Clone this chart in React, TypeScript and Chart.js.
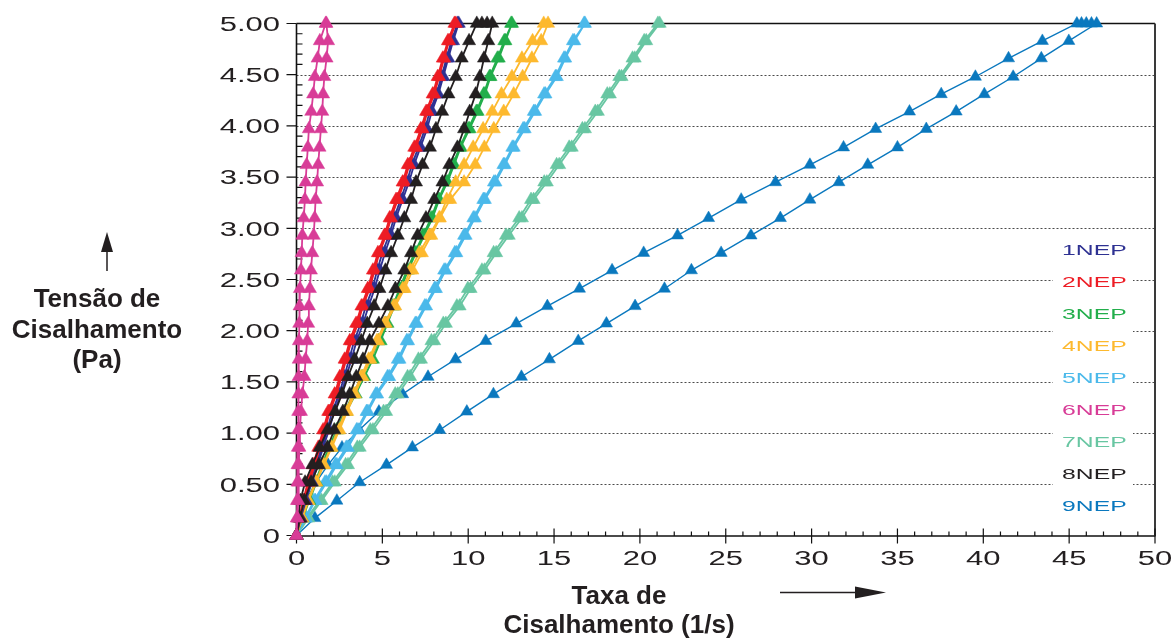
import React, { useEffect, useRef } from "react";
import { Chart, registerables } from "chart.js";

Chart.register(...registerables);

// Shear stress levels (Pa) shared by every curve, 30 steps from 0 to 5
const stressLevels = [
  0, 0.17, 0.34, 0.52, 0.69, 0.86, 1.03, 1.21, 1.38, 1.55, 1.72, 1.9, 2.07, 2.24, 2.41,
  2.59, 2.76, 2.93, 3.1, 3.28, 3.45, 3.62, 3.79, 3.97, 4.14, 4.31, 4.48, 4.66, 4.83, 5.0,
];

const seriesNames = ["1NEP", "2NEP", "3NEP", "4NEP", "5NEP", "6NEP", "7NEP", "8NEP", "9NEP"];
const seriesColors = [
  "#2E3192", "#ED1C24", "#22AE4B", "#FDB92E", "#4BB9EA", "#D83C97", "#68C6A2", "#231F20", "#0A78BE",
];

// Shear rate (1/s) read for the ramp-up curve and ramp-down curve of each sample
const rate1Up = [0, 0.25, 0.55, 0.9, 1.25, 1.55, 1.9, 2.2, 2.6, 2.9, 3.2, 3.5, 3.88, 4.2, 4.55, 4.85, 5.15, 5.5, 5.8, 6.18, 6.55, 6.85, 7.22, 7.6, 7.88, 8.26, 8.55, 8.84, 9.12, 9.45];
const rate1Down = [0, 0.22, 0.5, 0.82, 1.15, 1.45, 1.78, 2.08, 2.48, 2.78, 3.06, 3.36, 3.74, 4.04, 4.42, 4.7, 5.0, 5.38, 5.68, 6.06, 6.42, 6.72, 7.1, 7.48, 7.76, 8.15, 8.44, 8.74, 9.02, 9.38];
const rate1Hold: number[] = [];

const rate2Up = [0, 0.2, 0.45, 0.75, 1.07, 1.36, 1.65, 1.94, 2.33, 2.62, 2.9, 3.2, 3.58, 3.87, 4.26, 4.55, 4.83, 5.22, 5.51, 5.9, 6.28, 6.57, 6.96, 7.34, 7.63, 8.02, 8.31, 8.6, 8.89, 9.28];
const rate2Down = [0, 0.15, 0.38, 0.66, 0.97, 1.27, 1.55, 1.85, 2.22, 2.52, 2.8, 3.1, 3.47, 3.78, 4.15, 4.45, 4.74, 5.12, 5.42, 5.8, 6.18, 6.48, 6.86, 7.24, 7.55, 7.93, 8.22, 8.52, 8.82, 9.2];
const rate2Hold: number[] = [];

const rate3Up = [0, 0.35, 0.75, 1.17, 1.55, 2.0, 2.42, 2.9, 3.45, 3.95, 4.45, 4.9, 5.3, 5.7, 6.1, 6.5, 6.96, 7.44, 7.92, 8.31, 8.79, 9.18, 9.56, 10.08, 10.55, 10.97, 11.3, 11.78, 12.17, 12.55];
const rate3Down = [0, 0.3, 0.68, 1.08, 1.47, 1.9, 2.33, 2.8, 3.3, 3.82, 4.32, 4.78, 5.2, 5.6, 6.0, 6.42, 6.88, 7.36, 7.84, 8.24, 8.72, 9.1, 9.5, 10.0, 10.47, 10.9, 11.24, 11.7, 12.1, 12.5];
const rate3Hold: number[] = [];

const rate4Up = [0, 0.35, 0.7, 1.15, 1.6, 2.05, 2.5, 2.95, 3.4, 3.85, 4.3, 4.75, 5.2, 5.75, 6.3, 6.75, 7.3, 7.85, 8.35, 8.95, 9.76, 10.41, 10.94, 11.49, 12.07, 12.65, 13.17, 13.71, 14.25, 14.65];
const rate4Down = [0, 0.3, 0.65, 1.1, 1.55, 2.0, 2.4, 2.85, 3.3, 3.75, 4.2, 4.68, 5.12, 5.65, 6.19, 6.62, 7.15, 7.73, 8.31, 8.75, 9.27, 9.76, 10.29, 10.87, 11.4, 11.94, 12.55, 13.13, 13.75, 14.4];
const rate4Hold: number[] = [];

const rate5Up = [0, 0.55, 1.1, 1.75, 2.35, 3.0, 3.58, 4.16, 4.7, 5.4, 6.0, 6.5, 7.0, 7.55, 8.12, 8.69, 9.31, 9.85, 10.39, 10.97, 11.59, 12.13, 12.65, 13.29, 13.9, 14.5, 15.16, 15.65, 16.18, 16.8];
const rate5Down = [0, 0.5, 1.02, 1.66, 2.26, 2.9, 3.5, 4.08, 4.62, 5.3, 5.9, 6.42, 6.92, 7.47, 8.04, 8.6, 9.22, 9.76, 10.3, 10.88, 11.5, 12.05, 12.57, 13.2, 13.82, 14.42, 15.08, 15.58, 16.1, 16.75];
const rate5Hold: number[] = [];

const rate6Up = [0, 0.05, 0.1, 0.12, 0.14, 0.17, 0.2, 0.26, 0.34, 0.46, 0.53, 0.62, 0.68, 0.72, 0.78, 0.84, 0.92, 1.0, 1.06, 1.11, 1.2, 1.26, 1.34, 1.42, 1.5, 1.55, 1.62, 1.75, 1.84, 1.74];
const rate6Down = [0, 0.02, 0.03, 0.05, 0.06, 0.08, 0.09, 0.1, 0.11, 0.12, 0.13, 0.14, 0.16, 0.18, 0.2, 0.26, 0.3, 0.34, 0.42, 0.49, 0.53, 0.59, 0.66, 0.72, 0.86, 0.97, 1.07, 1.23, 1.36, 1.7];
const rate6Hold: number[] = [];

const rate7Up = [0, 0.7, 1.46, 2.23, 3.0, 3.68, 4.45, 5.22, 5.9, 6.62, 7.25, 8.02, 8.7, 9.5, 10.14, 10.95, 11.63, 12.36, 13.13, 13.81, 14.58, 15.3, 16.03, 16.8, 17.55, 18.25, 18.93, 19.7, 20.37, 21.15];
const rate7Down = [0, 0.6, 1.34, 2.1, 2.86, 3.54, 4.3, 5.07, 5.75, 6.47, 7.1, 7.86, 8.55, 9.34, 9.98, 10.8, 11.48, 12.2, 12.97, 13.66, 14.43, 15.15, 15.88, 16.65, 17.4, 18.1, 18.8, 19.57, 20.25, 21.05];
const rate7Hold: number[] = [];

const rate8Up = [0, 0.2, 0.45, 0.85, 1.3, 1.8, 2.2, 2.7, 3.1, 3.48, 3.87, 4.26, 4.8, 5.32, 5.76, 6.28, 6.67, 7.05, 7.54, 8.02, 8.5, 8.9, 9.37, 9.76, 10.09, 10.43, 10.68, 10.92, 11.17, 11.4];
const rate8Down = [0, 0.1, 0.22, 0.5, 0.92, 1.35, 1.8, 2.25, 2.65, 3.0, 3.39, 3.77, 4.12, 4.52, 4.83, 5.18, 5.51, 5.9, 6.28, 6.67, 6.96, 7.34, 7.77, 8.12, 8.48, 8.85, 9.28, 9.62, 10.05, 10.5];
const rate8Hold = [11.1, 10.8];

const rate9Up = [0, 1.07, 2.35, 3.68, 5.24, 6.75, 8.34, 9.92, 11.47, 13.1, 14.73, 16.41, 18.05, 19.72, 21.43, 23.0, 24.73, 26.47, 28.18, 29.9, 31.59, 33.27, 35.0, 36.68, 38.42, 40.06, 41.74, 43.38, 44.98, 46.6];
const rate9Down = [0, 0.2, 0.55, 1.13, 1.84, 2.65, 3.65, 4.8, 6.18, 7.66, 9.26, 11.02, 12.8, 14.61, 16.48, 18.38, 20.22, 22.19, 24.0, 25.9, 27.9, 29.9, 31.86, 33.73, 35.7, 37.55, 39.54, 41.47, 43.44, 45.45];
const rate9Hold = [46.3, 46.0, 45.72];

const ratesUp = [rate1Up, rate2Up, rate3Up, rate4Up, rate5Up, rate6Up, rate7Up, rate8Up, rate9Up];
const ratesDown = [rate1Down, rate2Down, rate3Down, rate4Down, rate5Down, rate6Down, rate7Down, rate8Down, rate9Down];
const ratesHold = [rate1Hold, rate2Hold, rate3Hold, rate4Hold, rate5Hold, rate6Hold, rate7Hold, rate8Hold, rate9Hold];
const drawOrder = [4, 3, 6, 5, 7, 1, 8, 2, 9];

// Axis ticks
const yTickValues = [0, 0.5, 1, 1.5, 2, 2.5, 3, 3.5, 4, 4.5, 5];
const yTickLabels = ["0", "0.50", "1.00", "1.50", "2.00", "2.50", "3.00", "3.50", "4.00", "4.50", "5.00"];
const xTickValues = [0, 5, 10, 15, 20, 25, 30, 35, 40, 45, 50];
const xTickLabels = ["0", "5", "10", "15", "20", "25", "30", "35", "40", "45", "50"];

const yTitleLines = ["Tensão de", "Cisalhamento", "(Pa)"];
const xTitleLines = ["Taxa de", "Cisalhamento (1/s)"];

const FONT = "'Liberation Sans', Arial, sans-serif";

function stretchText(ctx: CanvasRenderingContext2D, text: string, x: number, y: number, sx: number, align: CanvasTextAlign) {
  ctx.save();
  ctx.translate(x, y);
  ctx.scale(sx, 1);
  ctx.textAlign = align;
  ctx.textBaseline = "alphabetic";
  ctx.fillText(text, 0, 0);
  ctx.restore();
}

const framePlugin = {
  id: "frame",
  beforeDatasetsDraw(chart: any) {
    const ctx: CanvasRenderingContext2D = chart.ctx;
    const xs = chart.scales.x;
    const ys = chart.scales.y;
    const left = xs.getPixelForValue(0);
    const right = xs.getPixelForValue(50);
    const top = ys.getPixelForValue(5);
    const bottom = ys.getPixelForValue(0);
    ctx.save();
    ctx.strokeStyle = "#4a4a4a";
    ctx.lineWidth = 1;
    ctx.setLineDash([2, 2]);
    for (const v of yTickValues) {
      if (v === 0 || v === 5) continue;
      const y = Math.round(ys.getPixelForValue(v)) + 0.5;
      ctx.beginPath();
      ctx.moveTo(left, y);
      ctx.lineTo(right, y);
      ctx.stroke();
    }
    ctx.setLineDash([]);
    ctx.strokeStyle = "#111";
    ctx.lineWidth = 1.6;
    ctx.beginPath();
    ctx.moveTo(left, top);
    ctx.lineTo(right, top);
    ctx.moveTo(left, top);
    ctx.lineTo(left, bottom + 1);
    ctx.moveTo(left, bottom + 0.5);
    ctx.lineTo(right, bottom + 0.5);
    ctx.stroke();
    ctx.strokeStyle = "#3a3a3a";
    ctx.lineWidth = 2;
    ctx.beginPath();
    ctx.moveTo(right, top);
    ctx.lineTo(right, bottom + 1);
    ctx.stroke();
    ctx.strokeStyle = "#111";
    ctx.lineWidth = 1.2;
    ctx.beginPath();
    for (let i = 0; i <= 50; i++) {
      const y = ys.getPixelForValue(i / 10);
      if (i % 5 === 0) {
        ctx.moveTo(left - 10, y);
        ctx.lineTo(left, y);
      } else {
        ctx.moveTo(left, y);
        ctx.lineTo(left + 6, y);
      }
    }
    for (let i = 0; i <= 50; i++) {
      const x = xs.getPixelForValue(i);
      if (i % 5 === 0) {
        ctx.moveTo(x, bottom - 7);
        ctx.lineTo(x, bottom + 8);
      } else {
        ctx.moveTo(x, bottom - 4);
        ctx.lineTo(x, bottom + 0.5);
      }
    }
    ctx.stroke();
    ctx.restore();
  },
  afterDraw(chart: any) {
    const ctx: CanvasRenderingContext2D = chart.ctx;
    const xs = chart.scales.x;
    const ys = chart.scales.y;
    ctx.save();
    ctx.fillStyle = "#231F20";
    ctx.font = `20px ${FONT}`;
    yTickValues.forEach((v, i) => {
      stretchText(ctx, yTickLabels[i], 280, ys.getPixelForValue(v) + 7.2, 1.55, "right");
    });
    xTickValues.forEach((v, i) => {
      stretchText(ctx, xTickLabels[i], xs.getPixelForValue(v), 565, 1.55, "center");
    });
    ctx.font = `bold 26px ${FONT}`;
    ctx.textAlign = "center";
    ctx.textBaseline = "alphabetic";
    const yBase = [307, 338, 368];
    yTitleLines.forEach((t, i) => ctx.fillText(t, 97, yBase[i]));
    const xBase = [604, 633];
    xTitleLines.forEach((t, i) => ctx.fillText(t, 619, xBase[i]));
    ctx.strokeStyle = "#231F20";
    ctx.lineWidth = 1.5;
    ctx.beginPath();
    ctx.moveTo(107, 271);
    ctx.lineTo(107, 250);
    ctx.moveTo(780, 592.5);
    ctx.lineTo(858, 592.5);
    ctx.stroke();
    ctx.beginPath();
    ctx.moveTo(107, 232);
    ctx.lineTo(101, 252);
    ctx.lineTo(113, 252);
    ctx.closePath();
    ctx.fill();
    ctx.beginPath();
    ctx.moveTo(886, 592.5);
    ctx.lineTo(855, 586.5);
    ctx.lineTo(855, 598.5);
    ctx.closePath();
    ctx.fill();
    ctx.fillStyle = "#fff";
    ctx.fillRect(1053, 237, 80, 284);
    ctx.font = `15px ${FONT}`;
    seriesNames.forEach((name, i) => {
      ctx.fillStyle = seriesColors[i];
      stretchText(ctx, name, 1062, 250 + i * 32 + 5.4, 1.65, "left");
    });
    ctx.restore();
  },
};

export default function App() {
  const ref = useRef<HTMLCanvasElement | null>(null);
  useEffect(() => {
    if (!ref.current) return;
    const datasets = seriesNames.map((name, s) => {
      const up = ratesUp[s].map((x, i) => ({ x, y: stressLevels[i] }));
      const hold = ratesHold[s].map((x) => ({ x, y: 5 }));
      const down = ratesDown[s].map((x, i) => ({ x, y: stressLevels[i] })).reverse();
      return {
        label: name,
        data: [...up, ...hold, ...down],
        borderColor: seriesColors[s],
        backgroundColor: seriesColors[s],
        borderWidth: s === 8 ? 1.4 : 1.8,
        pointStyle: "triangle" as const,
        pointRadius: s === 8 ? 7 : 7.6,
        pointBorderWidth: 0.5,
        pointBackgroundColor: seriesColors[s],
        pointBorderColor: seriesColors[s],
        showLine: true,
        tension: 0,
        clip: false as any,
        order: drawOrder[s],
      };
    });
    const chart = new Chart(ref.current, {
      type: "scatter",
      data: { datasets },
      options: {
        animation: false,
        responsive: false,
        maintainAspectRatio: false,
        events: [],
        layout: { padding: { top: 23.5, right: 21, bottom: 0, left: 0 } },
        plugins: { legend: { display: false }, tooltip: { enabled: false } },
        scales: {
          x: {
            type: "linear",
            min: 0,
            max: 50,
            ticks: { display: false, stepSize: 5 },
            grid: { display: false },
            border: { display: false },
            afterFit: (scale: any) => {
              scale.height = 102.5;
            },
          },
          y: {
            type: "linear",
            min: 0,
            max: 5,
            ticks: { display: false, stepSize: 0.5 },
            grid: { display: false },
            border: { display: false },
            afterFit: (scale: any) => {
              scale.width = 296.5;
            },
          },
        },
      },
      plugins: [framePlugin],
    });
    return () => chart.destroy();
  }, []);
  return (
    <div style={{ position: "fixed", left: 0, top: 0, width: 1176, height: 638, background: "#fff" }}>
      <canvas ref={ref} width={1176} height={638} style={{ display: "block" }} />
    </div>
  );
}
